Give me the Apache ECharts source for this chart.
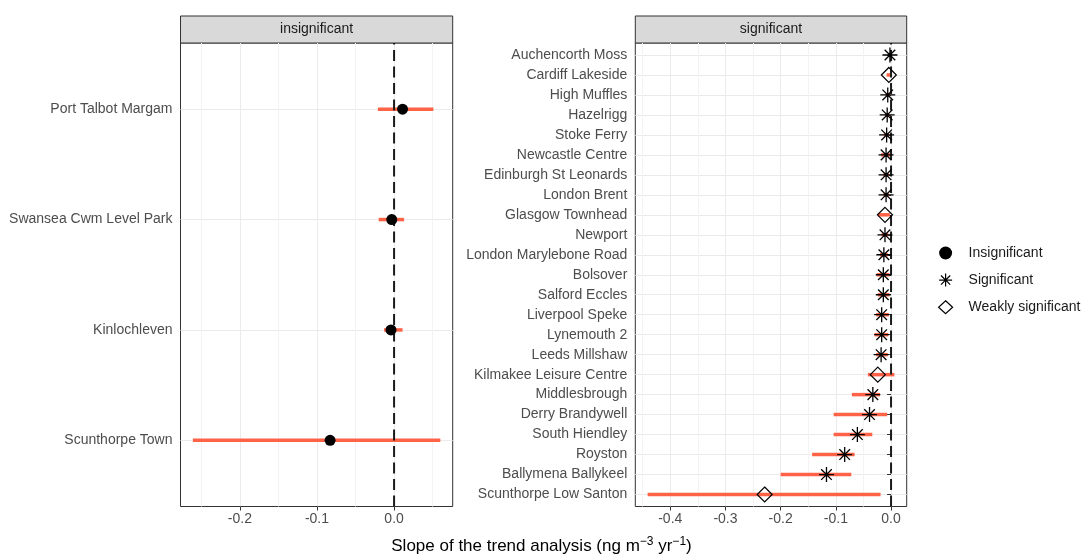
<!DOCTYPE html>
<html><head><meta charset="utf-8">
<script src="https://cdn.jsdelivr.net/npm/echarts@6/dist/echarts.min.js"></script>
<style>html,body{margin:0;padding:0;background:#fff}#c{width:1083px;height:554px}</style>
</head><body><div id="c"></div>
<script>
// ---- data ----
const panelNames = ['insignificant', 'significant'];
const legendNames = ['Insignificant', 'Significant', 'Weakly significant'];

const leftSites = ['Port Talbot Margam', 'Swansea Cwm Level Park', 'Kinlochleven', 'Scunthorpe Town'];
const leftSlope = [0.011, -0.003, -0.004, -0.083];
const leftLower = [-0.021, -0.020, -0.013, -0.261];
const leftUpper = [0.051, 0.013, 0.011, 0.060];

const rightSites = ['Auchencorth Moss', 'Cardiff Lakeside', 'High Muffles', 'Hazelrigg', 'Stoke Ferry',
  'Newcastle Centre', 'Edinburgh St Leonards', 'London Brent', 'Glasgow Townhead', 'Newport',
  'London Marylebone Road', 'Bolsover', 'Salford Eccles', 'Liverpool Speke', 'Lynemouth 2',
  'Leeds Millshaw', 'Kilmakee Leisure Centre', 'Middlesbrough', 'Derry Brandywell', 'South Hiendley',
  'Royston', 'Ballymena Ballykeel', 'Scunthorpe Low Santon'];
const rightSlope = [-0.002, -0.004, -0.006, -0.007, -0.008, -0.009, -0.009, -0.009, -0.011, -0.011,
  -0.013, -0.014, -0.014, -0.017, -0.017, -0.018, -0.024, -0.033, -0.039, -0.061, -0.084, -0.117, -0.229];
const rightLower = [-0.004, -0.008, -0.010, -0.011, -0.013, -0.018, -0.014, -0.014, -0.024, -0.017,
  -0.020, -0.026, -0.024, -0.027, -0.030, -0.027, -0.042, -0.071, -0.104, -0.104, -0.143, -0.200, -0.441];
const rightUpper = [0.000, -0.001, -0.002, -0.003, -0.004, -0.002, -0.004, -0.004, -0.002, -0.005,
  -0.006, -0.003, -0.003, -0.004, -0.005, -0.006, 0.006, -0.020, -0.007, -0.034, -0.066, -0.072, -0.019];
const rightClass = ['S', 'W', 'S', 'S', 'S', 'S', 'S', 'S', 'W', 'S', 'S', 'S', 'S', 'S', 'S', 'S', 'W',
  'S', 'S', 'S', 'S', 'S', 'W'];

const leftTicks = [-0.2, -0.1, 0.0];
const leftMinor = [-0.25, -0.15, -0.05, 0.05];
const rightTicks = [-0.4, -0.3, -0.2, -0.1, 0.0];
const rightMinor = [-0.45, -0.35, -0.25, -0.15, -0.05];
const zeroX = 0;

// ---- layout / style ----
const FONT = 'Liberation Sans, Arial, sans-serif';
const AX = 14;
const PT = 43, PH = 463.5;
const L = { left: 180.5, width: 272.2 };
const R = { left: 635.3, width: 271.4 };

function expand(lo, hi) { const r = hi - lo; return [lo - 0.05 * r, hi + 0.05 * r]; }
const lExt = expand(Math.min(...leftLower), Math.max(...leftUpper));
const rExt = expand(Math.min(...rightLower), Math.max(...rightUpper));

function overlayGrid(p, n) {
  const step = PH / (n - 1 + 1.2);
  return { left: p.left, width: p.width, top: PT + 0.6 * step, height: (n - 1) * step };
}
const fmt = v => (Math.abs(v) < 1e-9 ? 0 : v).toFixed(1);

function majorX(grid, ext, ticks) {
  return {
    type: 'value', gridIndex: grid, min: ext[0], max: ext[1], position: 'bottom',
    axisLine: { show: false },
    axisTick: { show: true, customValues: ticks, length: 4, lineStyle: { color: '#333', width: 1 } },
    axisLabel: { customValues: ticks, formatter: fmt, color: '#4D4D4D', fontSize: AX, fontFamily: FONT, margin: 6 },
    splitLine: { show: true, lineStyle: { color: '#EBEBEB', width: 1 } }
  };
}
function minorX(grid, ext, ticks) {
  return {
    type: 'value', gridIndex: grid, min: ext[0], max: ext[1], position: 'bottom',
    axisLine: { show: false },
    axisTick: { show: false, customValues: ticks },
    axisLabel: { show: false, customValues: ticks },
    splitLine: { show: true, lineStyle: { color: '#F3F3F3', width: 1 } }
  };
}
function hiddenX(grid, ext) { return { type: 'value', gridIndex: grid, min: ext[0], max: ext[1], show: false }; }
function catY(grid, sites, margin) {
  return {
    type: 'value', gridIndex: grid, min: 0, max: sites.length - 1, interval: 1, inverse: true,
    axisLine: { show: false },
    axisTick: { show: true, length: 4, lineStyle: { color: '#333', width: 1 } },
    axisLabel: { formatter: v => sites[v] || '', color: '#4D4D4D', fontSize: AX, fontFamily: FONT, margin: margin },
    splitLine: { show: true, lineStyle: { color: '#EBEBEB', width: 1 } }
  };
}

const asterisk = 'path://M-1,0L1,0M0,-1L0,1M-0.7071,-0.7071L0.7071,0.7071M-0.7071,0.7071L0.7071,-0.7071';

function barSeries(x, y, lo, hi) {
  return {
    type: 'custom', xAxisIndex: x, yAxisIndex: y, z: 2, silent: true,
    data: lo.map((v, i) => [v, hi[i], i]),
    encode: { x: [0, 1], y: 2 },
    renderItem: (params, api) => {
      const a = api.coord([api.value(0), api.value(2)]);
      const b = api.coord([api.value(1), api.value(2)]);
      return { type: 'line', shape: { x1: a[0], y1: a[1], x2: b[0], y2: b[1] },
        style: { stroke: '#FF6347', lineWidth: 3.5 } };
    }
  };
}
function zeroSeries(x, y) {
  return {
    type: 'line', xAxisIndex: x, yAxisIndex: y, z: 3, silent: true, showSymbol: false,
    data: [[zeroX, 0], [zeroX, 1]],
    lineStyle: { color: '#1a1a1a', width: 2, type: [11, 5.5] }
  };
}

const option = {
  animation: false,
  backgroundColor: '#fff',
  grid: [
    { left: L.left, width: L.width, top: PT, height: PH, show: true, borderColor: '#333', borderWidth: 1, backgroundColor: 'transparent' },
    overlayGrid(L, leftSites.length),
    { left: R.left, width: R.width, top: PT, height: PH, show: true, borderColor: '#333', borderWidth: 1, backgroundColor: 'transparent' },
    overlayGrid(R, rightSites.length)
  ],
  xAxis: [
    majorX(0, lExt, leftTicks), minorX(0, lExt, leftMinor), hiddenX(1, lExt),
    majorX(2, rExt, rightTicks), minorX(2, rExt, rightMinor), hiddenX(3, rExt)
  ],
  yAxis: [
    { type: 'value', gridIndex: 0, min: 0, max: 1, show: false },
    catY(1, leftSites, 8),
    { type: 'value', gridIndex: 2, min: 0, max: 1, show: false },
    catY(3, rightSites, 8)
  ],
  legend: {
    orient: 'vertical', left: 933, top: 241, itemWidth: 14, itemHeight: 13, itemGap: 13,
    selectedMode: false,
    textStyle: { fontSize: AX, color: '#1A1A1A', fontFamily: FONT, padding: [0, 0, 0, 11] },
    data: [
      { name: legendNames[0], itemStyle: { color: '#000' } },
      { name: legendNames[1], itemStyle: { color: 'rgba(0,0,0,0)', borderColor: '#000', borderWidth: 1.2 } },
      { name: legendNames[2], itemStyle: { color: 'rgba(0,0,0,0)', borderColor: '#000', borderWidth: 1.2 } }
    ]
  },
  title: {
    left: 'center', top: 531,
    text: '{a|Slope of the trend analysis (ng m}{s|−3}{a| yr}{s|−1}{a|)}',
    textStyle: { fontWeight: 'normal', rich: {
      a: { fontSize: 17, color: '#000', fontFamily: FONT, fontWeight: 'normal' },
      s: { fontSize: 12, color: '#000', fontFamily: FONT, fontWeight: 'normal', padding: [0, 0, 9, 0] }
    } }
  },
  graphic: [
    { type: 'rect', shape: { x: L.left, y: 16, width: L.width, height: 27 }, style: { fill: '#D9D9D9', stroke: '#333', lineWidth: 1 } },
    { type: 'text', x: L.left + L.width / 2, y: 29.5, style: { text: panelNames[0], align: 'center', verticalAlign: 'middle', fontSize: AX, fontFamily: FONT, fill: '#1A1A1A' } },
    { type: 'rect', shape: { x: R.left, y: 16, width: R.width, height: 27 }, style: { fill: '#D9D9D9', stroke: '#333', lineWidth: 1 } },
    { type: 'text', x: R.left + R.width / 2, y: 29.5, style: { text: panelNames[1], align: 'center', verticalAlign: 'middle', fontSize: AX, fontFamily: FONT, fill: '#1A1A1A' } }
  ],
  series: [
    barSeries(2, 1, leftLower, leftUpper),
    zeroSeries(0, 0),
    {
      name: legendNames[0], type: 'scatter', xAxisIndex: 2, yAxisIndex: 1, z: 4, silent: true,
      symbol: 'circle', symbolSize: 11, itemStyle: { color: '#000', opacity: 1 },
      data: leftSlope.map((v, i) => [v, i])
    },
    barSeries(5, 3, rightLower, rightUpper),
    zeroSeries(3, 2),
    {
      name: legendNames[1], type: 'scatter', xAxisIndex: 5, yAxisIndex: 3, z: 4, silent: true,
      symbol: asterisk, symbolSize: 15, symbolKeepAspect: true,
      itemStyle: { color: 'rgba(0,0,0,0)', borderColor: '#000', borderWidth: 1.3, opacity: 1 },
      data: rightSlope.map((v, i) => [v, i]).filter((d, i) => rightClass[i] === 'S')
    },
    {
      name: legendNames[2], type: 'scatter', xAxisIndex: 5, yAxisIndex: 3, z: 4, silent: true,
      symbol: 'diamond', symbolSize: 15, symbolKeepAspect: true,
      itemStyle: { color: 'rgba(0,0,0,0)', borderColor: '#000', borderWidth: 1.2, opacity: 1 },
      data: rightSlope.map((v, i) => [v, i]).filter((d, i) => rightClass[i] === 'W')
    }
  ]
};
const chart = echarts.init(document.getElementById('c'), null, { renderer: 'canvas' });
chart.setOption(option);
</script></body></html>
